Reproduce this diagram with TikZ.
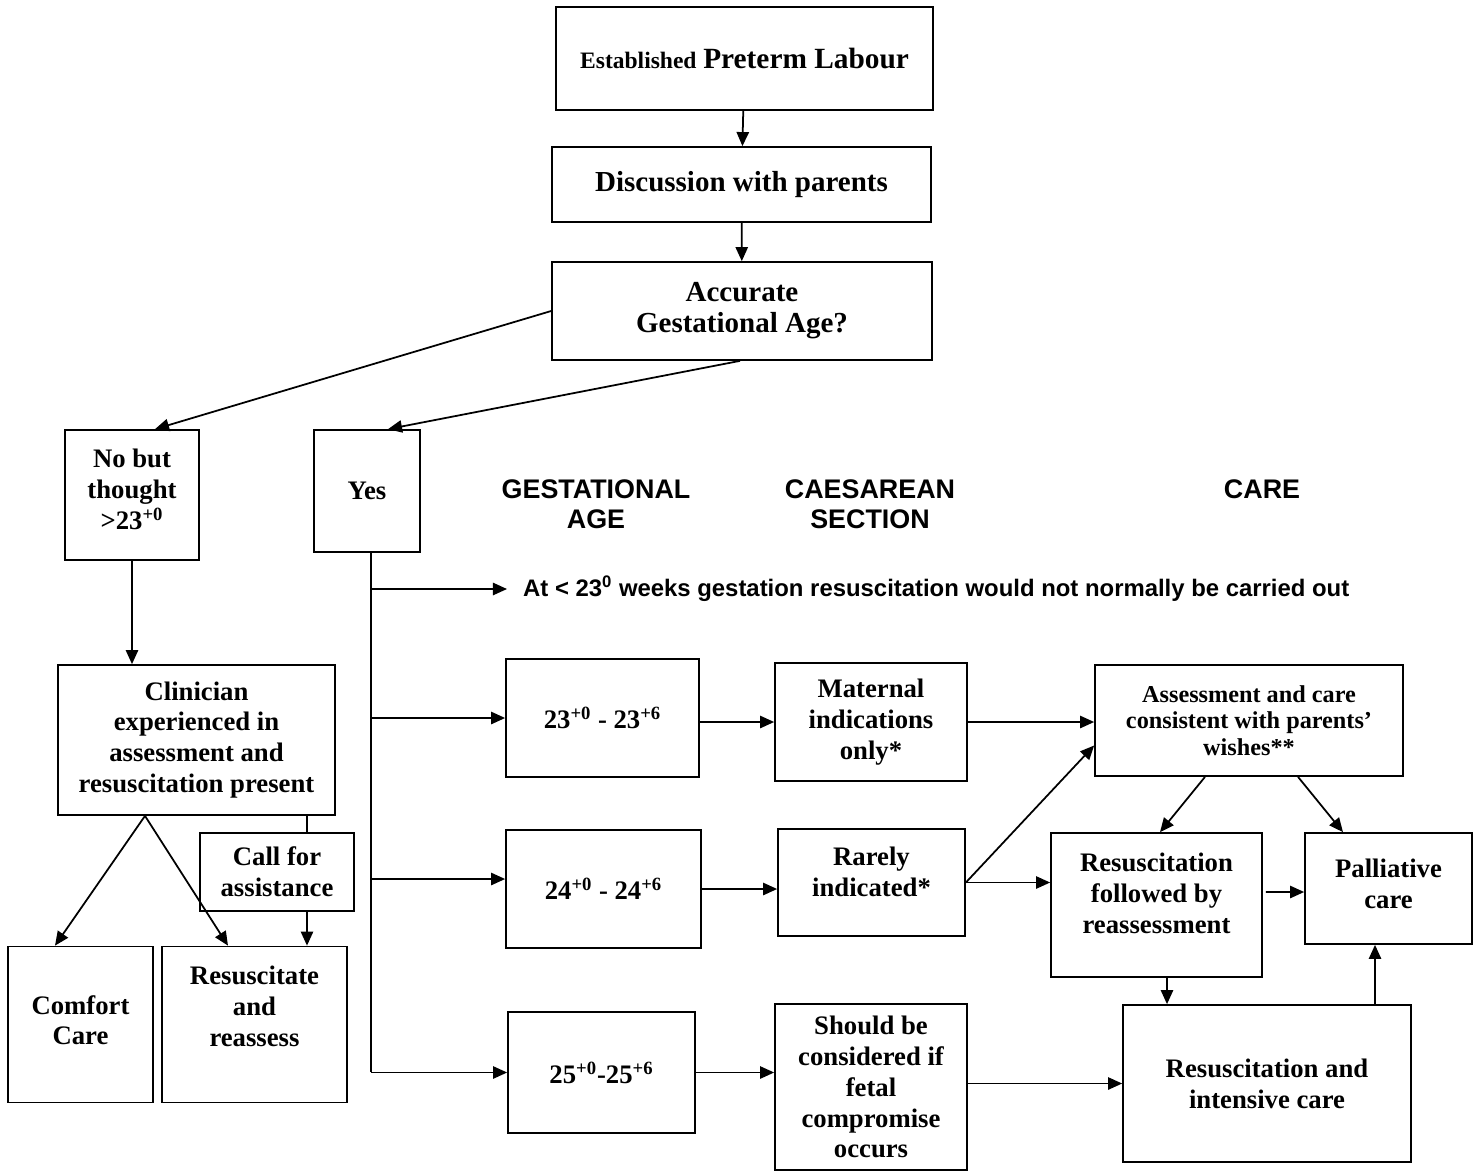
\documentclass[tikz,border=0pt]{standalone}
\usepackage{fontspec}
\setmainfont{Liberation Serif}
\newfontfamily\headfont{Liberation Sans}
\usetikzlibrary{arrows.meta,calc}
\begin{document}
\begin{tikzpicture}[x=0.02cm,y=-0.02cm]
\tikzstyle{dep}= [-{Triangle[length=8pt,width=7pt]},line width=1pt]
\tikzstyle{ln}= [line width=1pt]
\tikzstyle{bb}= [rectangle,draw,line width=1pt,align=center,inner sep=2pt,font=\fontsize{15.2}{17.6}\selectfont\bfseries]
\tikzstyle{hd}= [align=center,font=\headfont\fontsize{15.3}{17}\selectfont\bfseries]
\useasboundingbox (0,0) rectangle (1480,1173);
\path
	( 744.5,  58.5) node[bb,minimum width=7.54cm,minimum height=2.06cm] (est) {{\fontsize{13.4}{15}\selectfont Established} {\fontsize{16.7}{20}\selectfont Preterm Labour}}
	( 741.5, 184.5) node[bb,minimum width=7.58cm,minimum height=1.50cm,font=\fontsize{16.5}{19}\selectfont\bfseries] (disc) {Discussion with parents}
	( 742  , 311  ) node[bb,minimum width=7.60cm,minimum height=1.96cm,font=\fontsize{16.5}{17.6}\selectfont\bfseries] (acc) {Accurate\\Gestational Age?}
	( 132  , 495  ) node[bb,minimum width=2.68cm,minimum height=2.60cm,text depth=6.5pt] (nobut) {No but\\thought\\>23\textsuperscript{+0}}
	( 367  , 491  ) node[bb,minimum width=2.12cm,minimum height=2.44cm] (yes) {Yes}
	( 196.5, 740  ) node[bb,minimum width=5.54cm,minimum height=3.00cm] (clin) {Clinician\\experienced in\\assessment and\\resuscitation present}
	( 277  , 872  ) node[bb,minimum width=3.08cm,minimum height=1.56cm] (call) {Call for\\assistance}
	(  80.5,1024.5) node[bb,minimum width=2.90cm,minimum height=3.12cm,text depth=5pt] (comfort) {Comfort\\Care}
	( 254.5,1024.5) node[bb,minimum width=3.70cm,minimum height=3.12cm,text depth=20.5pt] (resus) {Resuscitate\\and\\reassess}
	( 596  , 504  ) node[hd] (hga) {GESTATIONAL\\AGE}
	( 870  , 504  ) node[hd] (hcs) {CAESAREAN\\SECTION}
	(1262  , 489  ) node[hd] (hcare) {CARE}
	( 507  , 589  ) node[anchor=west,inner xsep=9pt,font=\headfont\fontsize{13.6}{16}\selectfont\bfseries] (note) {At < 23\textsuperscript{0} weeks gestation resuscitation would not normally be carried out}
	( 602.5, 718  ) node[bb,minimum width=3.86cm,minimum height=2.36cm] (ga) {23\textsuperscript{+0} - 23\textsuperscript{+6}}
	( 603.5, 889  ) node[bb,minimum width=3.90cm,minimum height=2.36cm] (gb) {24\textsuperscript{+0} - 24\textsuperscript{+6}}
	( 601.5,1072.5) node[bb,minimum width=3.74cm,minimum height=2.42cm] (gc) {25\textsuperscript{+0}-25\textsuperscript{+6}}
	( 871  , 722  ) node[bb,minimum width=3.84cm,minimum height=2.36cm] (csa) {Maternal\\indications\\only*}
	( 871.5, 882.5) node[bb,minimum width=3.74cm,minimum height=2.14cm,text depth=12pt] (csb) {Rarely\\indicated*}
	( 871  ,1087  ) node[bb,minimum width=3.84cm,minimum height=3.32cm] (csc) {Should be\\considered if\\fetal\\compromise\\occurs}
	(1249  , 720.5) node[bb,minimum width=6.16cm,minimum height=2.22cm,font=\fontsize{13.8}{15.2}\selectfont\bfseries] (wish) {Assessment and care\\consistent with parents'\\wishes**}
	(1156.5, 905  ) node[bb,minimum width=4.22cm,minimum height=2.88cm,text depth=13.8pt] (reass) {Resuscitation\\followed by\\reassessment}
	(1388.5, 888.5) node[bb,minimum width=3.34cm,minimum height=2.22cm,text depth=5.7pt] (pall) {Palliative\\care}
	(1267  ,1083.5) node[bb,minimum width=5.76cm,minimum height=3.14cm] (icare) {Resuscitation and\\intensive care}
;
\coordinate (trunk) at (371,1072);
\draw[dep] (est) -- (disc);
\draw[dep] (disc) -- (acc);
\draw[dep] (acc.west) -- ($(nobut.north)+(23,0)$);
\draw[dep] ($(acc.south)+(-2,0)$) -- ($(yes.north)+(21,0)$);
\draw[dep] (nobut.south) -- (nobut.south |- clin.north);
\draw[dep] ($(clin.south)+(-51.5,0)$) -- ($(comfort.north)+(-25.5,0)$);
\draw[dep] ($(clin.south)+(-51.5,0)$) -- ($(resus.north)+(-26.5,0)$);
\draw[ln] ($(clin.south)+(110.5,0)$) -- ($(call.north)+(30,0)$);
\draw[dep] ($(call.south)+(30,0)$) -- ($(resus.north)+(52.5,0)$);
\draw[ln] (yes.south -| trunk) -- (trunk);
\draw[dep] (note.west -| trunk) -- (note.west);
\draw[dep] (ga.west -| trunk) -- (ga.west);
\draw[dep] ([yshift=0.2cm]gb.west -| trunk) -- ([yshift=0.2cm]gb.west);
\draw[dep] (gc.west -| trunk) -- (gc.west);
\draw[dep] (csa.west -| ga.east) -- (csa.west);
\draw[dep] (gb.east) -- (gb.east -| csb.west);
\draw[dep] (gc.east) -- (gc.east -| csc.west);
\draw[dep] (csa.east) -- (csa.east -| wish.west);
\draw[dep] (csb.east) -- ($(wish.west)+(0,25)$);
\draw[dep] (csb.east) -- (csb.east -| reass.west);
\draw[dep] (icare.west -| csc.east) -- (icare.west);
\draw[dep] ($(wish.south)+(-44,0)$) -- ($(reass.north)+(3.5,0)$);
\draw[dep] ($(wish.south)+(49,0)$) -- ($(pall.north)+(-45.5,0)$);
\draw[dep] ($(reass.east)+(3,-13)$) -- ($(pall.west)+(0,3.5)$);
\draw[dep] ($(reass.south)+(10.5,0)$) -- ($(icare.north)+(-100,0)$);
\draw[dep] ($(icare.north)+(108,0)$) -- ($(pall.south)+(-13.5,0)$);
\end{tikzpicture}
\end{document}
